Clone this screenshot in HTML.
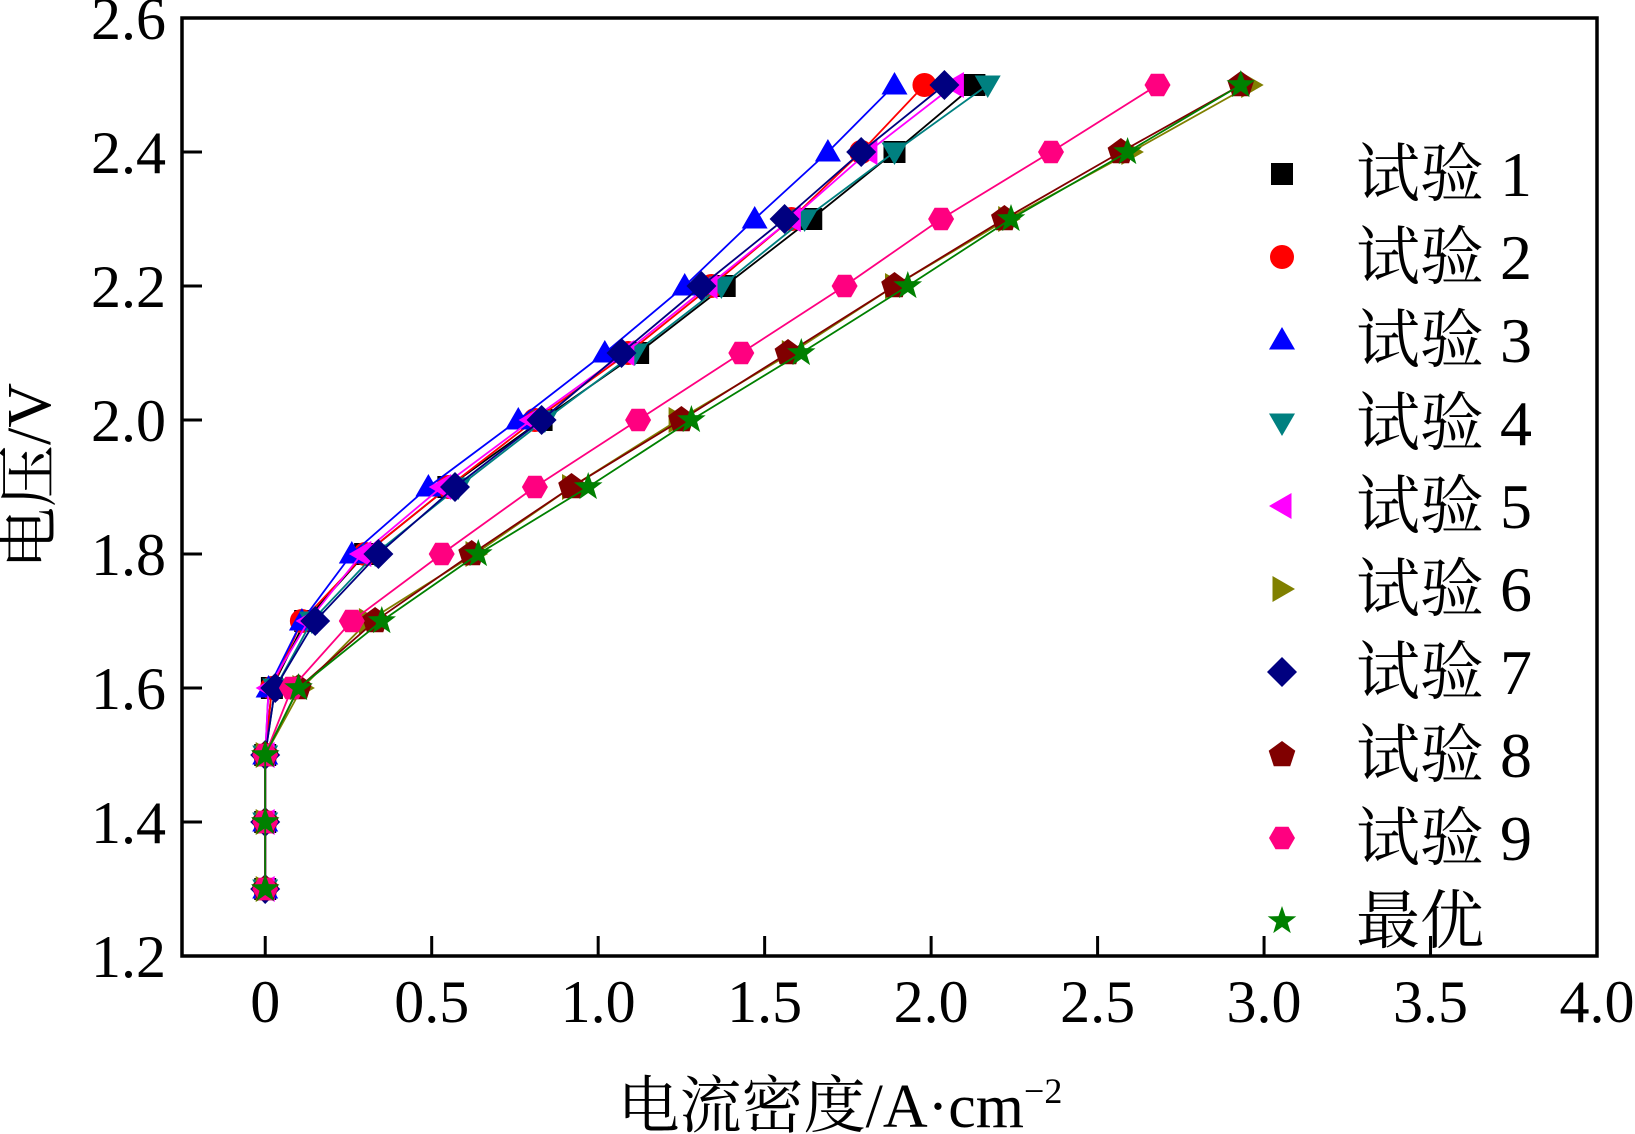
<!DOCTYPE html>
<html><head><meta charset="utf-8"><style>
html,body{margin:0;padding:0;background:#fff;}
svg{display:block;}
text{font-family:"Liberation Serif","Noto Serif CJK SC",serif;fill:#000;}
</style></head><body>
<svg id="chart" width="1635" height="1134" viewBox="0 0 1635 1134" xmlns="http://www.w3.org/2000/svg">
<g id="plot"></g>
<g id="axes"></g>
<g id="legend"></g>
<text transform="translate(50,476) rotate(-90)" text-anchor="middle" font-size="62" style="font-family:'Liberation Serif','Noto Serif CJK SC',serif">电压/V</text>
<text x="840" y="1127" text-anchor="middle" font-size="62" style="font-family:'Liberation Serif','Noto Serif CJK SC',serif">电流密度/A·cm<tspan dy="-24" font-size="36">−2</tspan></text>
</svg>
<script>
const voltages = [1.3,1.4,1.5,1.6,1.7,1.8,1.9,2.0,2.1,2.2,2.3,2.4,2.5];
const seriesNames = ["试验 1","试验 2","试验 3","试验 4","试验 5","试验 6","试验 7","试验 8","试验 9","最优"];
const s1 = [0,0,0,0.02,0.12,0.30,0.55,0.83,1.12,1.38,1.64,1.89,2.13];
const s2 = [0,0,0,0.02,0.11,0.30,0.55,0.81,1.09,1.34,1.58,1.79,1.98];
const s3 = [0,0,0,0.01,0.11,0.26,0.49,0.76,1.02,1.26,1.47,1.69,1.89];
const s4 = [0,0,0,0.03,0.14,0.33,0.58,0.84,1.11,1.37,1.62,1.89,2.17];
const s5 = [0,0,0,0.01,0.13,0.29,0.53,0.80,1.08,1.33,1.58,1.81,2.07];
const s6 = [0,0,0,0.11,0.31,0.63,0.92,1.24,1.58,1.89,2.23,2.60,2.96];
const s7 = [0,0,0,0.03,0.15,0.34,0.57,0.83,1.07,1.31,1.56,1.79,2.04];
const s8 = [0,0,0,0.10,0.33,0.62,0.92,1.25,1.57,1.89,2.22,2.57,2.93];
const s9 = [0,0,0,0.08,0.26,0.53,0.81,1.12,1.43,1.74,2.03,2.36,2.68];
const sBest = [0,0,0,0.10,0.35,0.64,0.97,1.28,1.61,1.93,2.24,2.59,2.93];
const xTicks = ["0","0.5","1.0","1.5","2.0","2.5","3.0","3.5","4.0"];
const yTicks = ["1.2","1.4","1.6","1.8","2.0","2.2","2.4","2.6"];

const allSeries=[s1,s2,s3,s4,s5,s6,s7,s8,s9,sBest];
const colors=["#000000","#ff0000","#0000ff","#008080","#ff00ff","#808000","#000080","#800000","#ff0080","#008000"];
const shapes=["square","circle","up","down","left","right","diamond","pentagon","hexagon","star"];
const L=182,R=1597,T=18,B=956;
const xMin=-0.25,xMax=4.0,yMin=1.2,yMax=2.6;
const xs=v=>L+(v-xMin)/(xMax-xMin)*(R-L);
const ys=v=>B-(v-yMin)/(yMax-yMin)*(B-T);
const NS="http://www.w3.org/2000/svg";
function mk(tag,attrs,parent){const e=document.createElementNS(NS,tag);for(const k in attrs)e.setAttribute(k,attrs[k]);parent.appendChild(e);return e;}
function poly(n,r,rot,cx,cy){let p=[];for(let i=0;i<n;i++){const a=rot+i*2*Math.PI/n;p.push((cx+r*Math.cos(a)).toFixed(1)+","+(cy+r*Math.sin(a)).toFixed(1));}return p.join(" ");}
function marker(shape,cx,cy,col,parent){
  let e;
  if(shape==="square")e=mk("rect",{x:cx-11,y:cy-11,width:22,height:22,fill:col},parent);
  else if(shape==="circle")e=mk("circle",{cx:cx,cy:cy,r:12,fill:col},parent);
  else if(shape==="up")e=mk("polygon",{points:poly(3,15,-Math.PI/2,cx,cy+2),fill:col},parent);
  else if(shape==="down")e=mk("polygon",{points:poly(3,15,Math.PI/2,cx,cy-2),fill:col},parent);
  else if(shape==="left")e=mk("polygon",{points:poly(3,15,Math.PI,cx+2,cy),fill:col},parent);
  else if(shape==="right")e=mk("polygon",{points:poly(3,15,0,cx-2,cy),fill:col},parent);
  else if(shape==="diamond")e=mk("polygon",{points:poly(4,15,0,cx,cy),fill:col},parent);
  else if(shape==="pentagon")e=mk("polygon",{points:poly(5,14,-Math.PI/2,cx,cy),fill:col},parent);
  else if(shape==="hexagon")e=mk("polygon",{points:poly(6,13,0,cx,cy),fill:col},parent);
  else {let p=[];for(let i=0;i<10;i++){const a=-Math.PI/2+i*Math.PI/5;const rr=i%2?6:15;p.push((cx+rr*Math.cos(a)).toFixed(1)+","+(cy+rr*Math.sin(a)).toFixed(1));}e=mk("polygon",{points:p.join(" "),fill:col},parent);}
  return e;
}
const plot=document.getElementById("plot");
allSeries.forEach((s,i)=>{
  const g=mk("g",{},plot);
  
  
  const pts=s.map((x,j)=>xs(x).toFixed(1)+","+ys(voltages[j]).toFixed(1)).join(" ");
  const ln=mk("polyline",{points:pts,fill:"none",stroke:colors[i],"stroke-width":1.8},g);
  
  
  s.forEach((x,j)=>{
    const m=marker(shapes[i],xs(x),ys(voltages[j]),colors[i],g);
    
    
  });
});
const axes=document.getElementById("axes");
const frame=mk("rect",{x:L,y:T,width:R-L,height:B-T,fill:"none",stroke:"#000","stroke-width":3.5},axes);


xTicks.forEach(t=>{
  const x=xs(parseFloat(t));
  const tk=mk("line",{x1:x,y1:B,x2:x,y2:B-20,stroke:"#000","stroke-width":3},axes);
  
  
  const tx=mk("text",{x:x,y:B+66,"text-anchor":"middle","font-size":60},axes);
  tx.textContent=t;
  
  
});
yTicks.forEach(t=>{
  const y=ys(parseFloat(t));
  const tk=mk("line",{x1:L,y1:y,x2:L+20,y2:y,stroke:"#000","stroke-width":3},axes);
  
  
  const tx=mk("text",{x:166,y:y+21,"text-anchor":"end","font-size":60},axes);
  tx.textContent=t;
  
  
});
const legend=document.getElementById("legend");
seriesNames.forEach((n,i)=>{
  const y=174+i*83;
  const g=mk("g",{},legend);
  
  
  marker(shapes[i],1282,y,colors[i],g);
  const tx=mk("text",{x:1356,y:y+22,"font-size":64},g);
  tx.textContent=n;
});
</script>
</body></html>
